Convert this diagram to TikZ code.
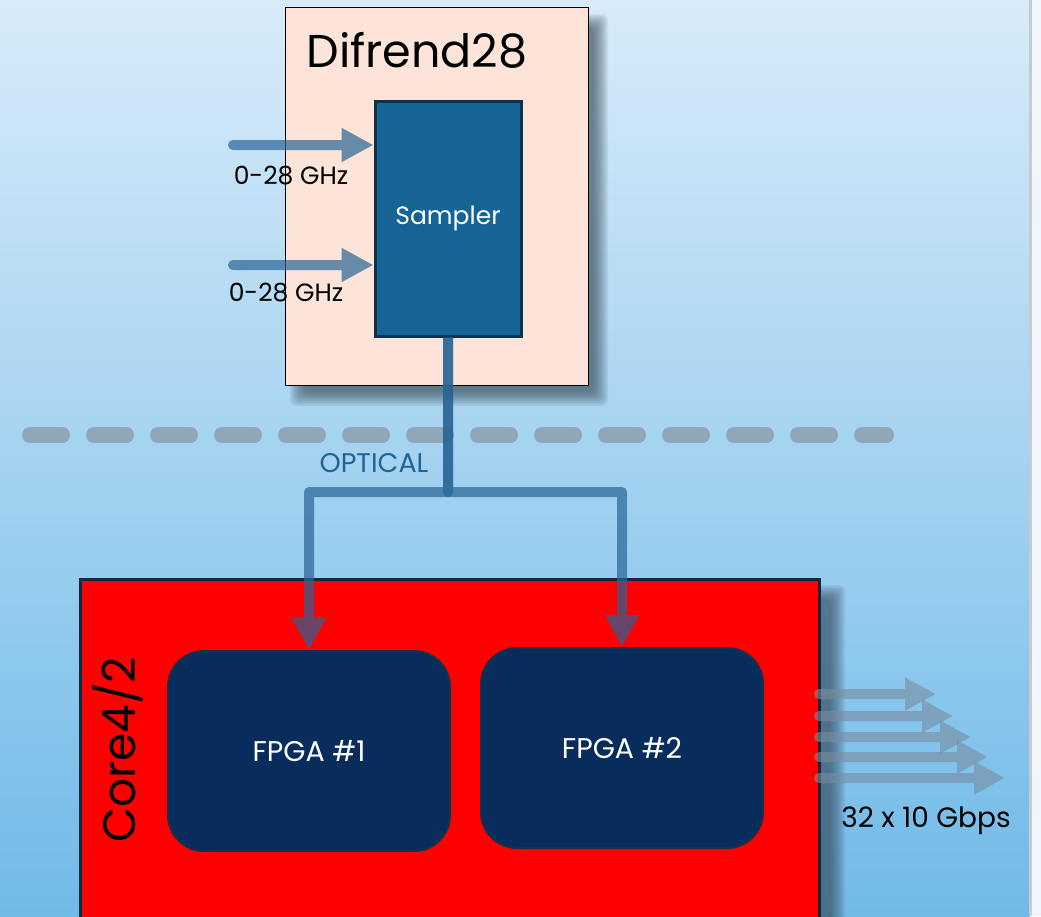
\documentclass[tikz,border=0pt]{standalone}
\usepackage{fontspec}
\setmainfont{Poppins}
\usetikzlibrary{arrows.meta}
\definecolor{bgtop}{RGB}{216,235,249}
\definecolor{bgmid}{RGB}{172,216,244}
\definecolor{bgbot}{RGB}{112,186,232}
\definecolor{stripbg}{RGB}{240,246,252}
\definecolor{stripline}{RGB}{200,202,208}
\definecolor{peach}{RGB}{252,229,216}
\definecolor{samplerblue}{RGB}{22,99,149}
\definecolor{samplerline}{RGB}{14,50,78}
\definecolor{fiberblue}{RGB}{40,100,150}
\definecolor{opticalblue}{RGB}{30,100,150}
\definecolor{dashgrey}{RGB}{135,148,160}
\definecolor{outgrey}{RGB}{120,140,160}
\definecolor{fpgablue}{RGB}{8,45,92}
\definecolor{fpgaline}{RGB}{20,50,72}
\definecolor{coreline}{RGB}{16,40,64}
\definecolor{shadowgrey}{RGB}{50,68,82}
\def\softshadow(#1,#2)(#3,#4){\foreach \k in {0,...,9}{\fill[shadowgrey, opacity=0.09, rounded corners=6pt] ({#1+\k*1.6},{#2+\k*1.6}) rectangle ({#3-\k*1.6},{#4-\k*1.6});}}
\tikzset{
  box/.style={draw, inner sep=0pt},
  lbl/.style={font=\fontsize{25}{25}\selectfont},
  fiber/.style={line width=10pt, draw=fiberblue, line join=round, -{Triangle[length=32pt,width=32pt]}},
  outarrow/.style={line width=10pt, draw=outgrey, {Round Cap[]}-{Triangle[length=31pt,width=31pt]}},
  dashline/.style={line width=16pt, draw=dashgrey, opacity=0.7, line cap=round, dash pattern=on 32pt off 32pt},
  fpga/.style={box, rounded corners=36pt, minimum width=282pt, minimum height=200pt, fill=fpgablue, draw=fpgaline, line width=2pt, text=white, font=\fontsize{28.5}{28.5}\selectfont}
}

\begin{document}
\begin{tikzpicture}[x=1pt,y=-1pt]
%%%%% START %%%%%
\useasboundingbox (0,0) rectangle (1041,916);
\clip (0,0) rectangle (1041,916);

\shade[top color=bgtop, middle color=bgmid, bottom color=bgbot] (0,0) rectangle (1030,916);
\fill[stripbg] (1030,0) rectangle (1041,916);
\draw[line width=3pt, stripline] (1030,0) -- (1030,916);

\draw[dashline] (30,435) -- (886,435);

% digitizer
\softshadow(290,14)(608,406)
\node[box, fill=peach, minimum width=303pt, minimum height=378pt] (difrend) at (436.5,196) {};
\node[anchor=base west, font=\fontsize{46}{46}\selectfont] (difrendlabel) at (303,67) {Difrend28};
\node[box, draw=samplerline, line width=3pt, fill=samplerblue, minimum width=146pt, minimum height=235pt, text=white, font=\fontsize{25}{25}\selectfont] (sampler) at (448,218.5) {Sampler};

\coordinate (in1) at (228,145);
\coordinate (in2) at (228,265);
\begin{scope}[transparency group, opacity=0.7]
\draw[fiber, {Round Cap[]}-{Triangle[length=32pt,width=32pt]}] (in1) -- (in1 -| sampler.west);
\end{scope}
\begin{scope}[transparency group, opacity=0.7]
\draw[fiber, {Round Cap[]}-{Triangle[length=32pt,width=32pt]}] (in2) -- (in2 -| sampler.west);
\end{scope}
\node[lbl] (freq1) at (291,176) {0-28 GHz};
\node[lbl] (freq2) at (286,293) {0-28 GHz};

% backend
\softshadow(86,585)(845,960)
\node[box, draw=coreline, line width=3pt, fill=red, minimum width=739pt, minimum height=360pt] (core) at (449.5,759) {};
\node[rotate=90, font=\fontsize{45.5}{45.5}\selectfont] (corelabel) at (118,750) {Core4/2};
\node[fpga] (fpga1) at (309,751) {FPGA \#1};
\node[fpga] (fpga2) at (622,748) {FPGA \#2};

\node[font=\fontsize{27}{27}\selectfont, text=opticalblue] (optical) at (374,463) {OPTICAL};
\coordinate (split) at (448,492);
\begin{scope}[transparency group, opacity=0.7]
\draw[fiber] (sampler.south) -- (split) -| (fpga1.north);
\end{scope}
\begin{scope}[transparency group, opacity=0.7]
\draw[fiber] (sampler.south) -- (split) -| (fpga2.north);
\end{scope}

\foreach \yy/\xx [count=\i] in {694/936, 716/953, 737/971, 757/988, 778/1005}{
  \coordinate (out\i) at (\xx,\yy);
  \begin{scope}[transparency group, opacity=0.6]
  \draw[outarrow] (814,\yy) -- (out\i);
  \end{scope}
}
\node[font=\fontsize{28}{28}\selectfont] (rate) at (926,821) {32 x 10 Gbps};
%%%%% END %%%%%
\end{tikzpicture}
\end{document}
